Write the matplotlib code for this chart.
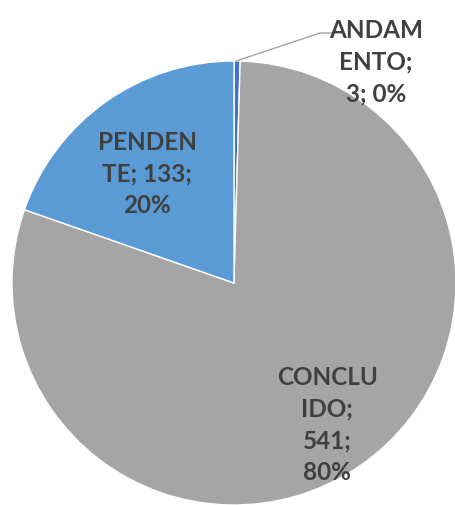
import matplotlib.pyplot as plt

# data
categorias = ['ANDAMENTO', 'CONCLUIDO', 'PENDENTE']
valores = [3, 541, 133]
cores = ['#4472C4', '#A5A5A5', '#5B9BD5']

# label text (wrapped like the original)
rotulos = ['ANDAM\nENTO;\n3; 0%', 'CONCLU\nIDO;\n541;\n80%', 'PENDEN\nTE; 133;\n20%']
pos_rotulos = [(0.64, 0.995), (0.42, -0.64), (-0.39, 0.49)]

fig = plt.figure(figsize=(4.55, 5.05), dpi=100)
ax = fig.add_axes([12 / 455, 0, 444 / 455, 444 / 505])

ax.pie(valores, colors=cores, startangle=90, counterclock=False,
       wedgeprops=dict(edgecolor='white', linewidth=1))
ax.set_xlim(-1, 1)
ax.set_ylim(-1, 1)
ax.set_aspect('equal')
ax.axis('off')
for p in ax.patches:
    p.set_clip_on(False)

# leader line for the small slice
ax.plot([0.01, 0.387, 0.45], [1.0, 1.126, 1.126], color='#A5A5A5', lw=1, clip_on=False)

for txt, (x, y) in zip(rotulos, pos_rotulos):
    ax.text(x, y, txt, ha='center', va='center', fontsize=17.5, fontweight='bold',
            family='Lato', color='#404040', linespacing=1.45)

fig.savefig('out.png', dpi=100)
